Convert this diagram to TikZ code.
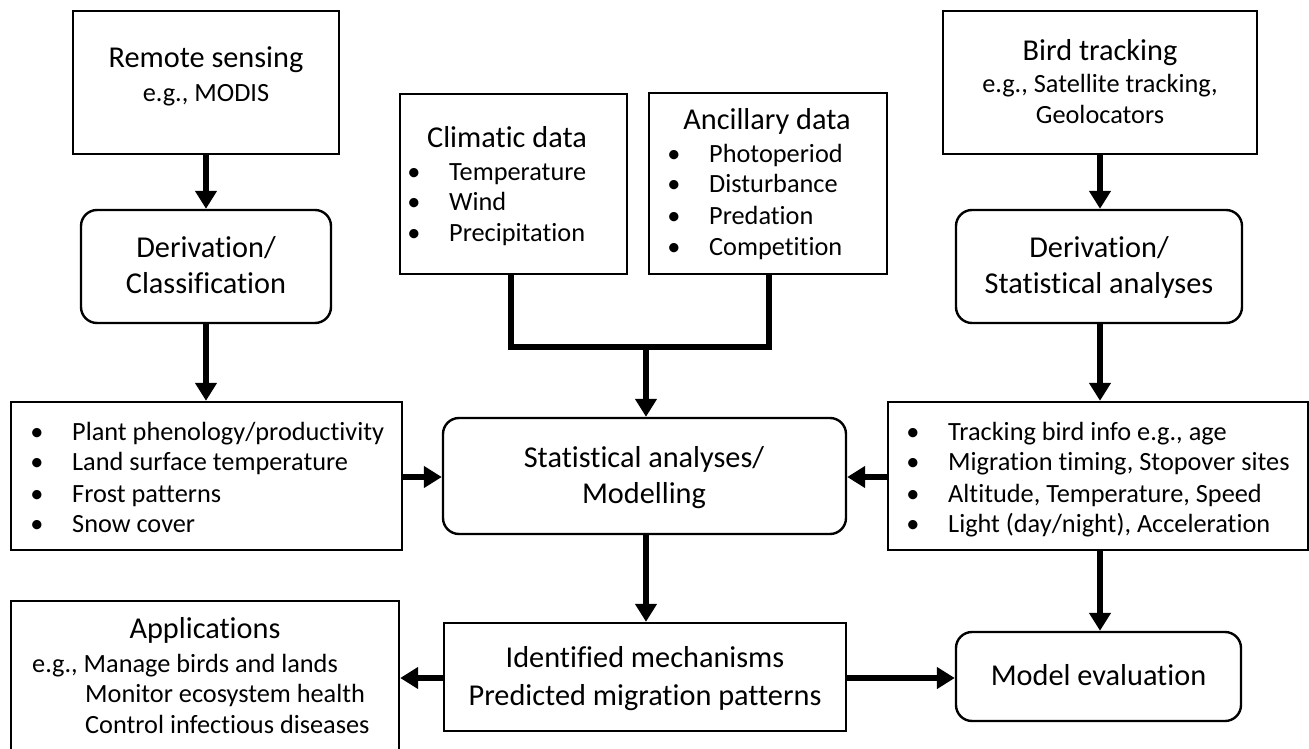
\documentclass[tikz,border=0pt]{standalone}
\usepackage{fontspec}
\setmainfont{Carlito}[Ligatures={NoCommon,NoContextual}]
\usetikzlibrary{arrows.meta}
\tikzset{
  box/.style={draw, line width=2.4pt, inner sep=0pt},
  rbox/.style={box, rounded corners=16pt},
  txt/.style={inner sep=0pt, font=\fontsize{26.3}{31}\selectfont},
  ttl/.style={inner sep=0pt, font=\fontsize{30.3}{36}\selectfont},
  arr/.style={line width=5.5pt, -{Triangle[length=18pt,width=21pt]}},
  conn/.style={line width=5.5pt},
}
\begin{document}
\begin{tikzpicture}[x=1pt,y=-1pt]
\clip (0,0) rectangle (1309,749);
\fill[white] (0,0) rectangle (1309,749);

% ---------- boxes ----------
\node[box, minimum width=266pt, minimum height=143pt] (rs) at (206,82.5) {};
\node[rbox, minimum width=250pt, minimum height=113pt] (dc) at (206,266.5) {};
\node[box, minimum width=391pt, minimum height=148pt] (lst) at (206.5,476) {};
\node[box, minimum width=227pt, minimum height=180pt] (clim) at (513.5,184) {};
\node[box, minimum width=238pt, minimum height=181pt] (anc) at (768,183.5) {};
\node[rbox, minimum width=403pt, minimum height=116pt] (stat) at (644.5,476) {};
\node[box, minimum width=402pt, minimum height=108pt] (ident) at (645,677) {};
\node[box, minimum width=388pt, minimum height=159pt] (app) at (205,680.5) {};
\node[box, minimum width=314pt, minimum height=143pt] (bt) at (1100,82.5) {};
\node[rbox, minimum width=286pt, minimum height=113pt] (ds) at (1099,266.5) {};
\node[box, minimum width=420pt, minimum height=148pt] (rlst) at (1098,476) {};
\node[rbox, minimum width=285pt, minimum height=89pt] (me) at (1098.5,676.5) {};

% ---------- texts ----------
\node[ttl, anchor=base] (rs1) at (206,68) {Remote sensing};
\node[txt, anchor=base] (rs2) at (206,102) {e.g., MODIS};

\node[ttl, anchor=base] (dc1) at (206,257) {Derivation/};
\node[ttl, anchor=base] (dc2) at (206,293) {Classification};

\node[ttl, anchor=base] (cl0) at (507,147) {Climatic data};
\node[txt, anchor=base] (clb1) at (414,180) {\textbullet};
\node[txt, anchor=base west] (cl1) at (449,180) {Temperature};
\node[txt, anchor=base] (clb2) at (414,210) {\textbullet};
\node[txt, anchor=base west] (cl2) at (449,210) {Wind};
\node[txt, anchor=base] (clb3) at (414,241) {\textbullet};
\node[txt, anchor=base west] (cl3) at (449,241) {Precipitation};

\node[ttl, anchor=base] (an0) at (767,130) {Ancillary data};
\node[txt, anchor=base] (anb1) at (674,163) {\textbullet};
\node[txt, anchor=base west] (an1) at (709,163) {Photoperiod};
\node[txt, anchor=base] (anb2) at (674,193) {\textbullet};
\node[txt, anchor=base west] (an2) at (709,193) {Disturbance};
\node[txt, anchor=base] (anb3) at (674,224) {\textbullet};
\node[txt, anchor=base west] (an3) at (709,224) {Predation};
\node[txt, anchor=base] (anb4) at (674,255) {\textbullet};
\node[txt, anchor=base west] (an4) at (709,255) {Competition};

\node[ttl, anchor=base] (bt1) at (1100,61) {Bird tracking};
\node[txt, anchor=base] (bt2) at (1100,93) {e.g., Satellite tracking,};
\node[txt, anchor=base] (bt3) at (1100,124) {Geolocators};

\node[ttl, anchor=base] (ds1) at (1099,257) {Derivation/};
\node[ttl, anchor=base] (ds2) at (1099,293) {Statistical analyses};

\node[txt, anchor=base] (lb1) at (37,440) {\textbullet};
\node[txt, anchor=base west] (l1) at (72,440) {Plant phenology/productivity};
\node[txt, anchor=base] (lb2) at (37,470) {\textbullet};
\node[txt, anchor=base west] (l2) at (72,470) {Land surface temperature};
\node[txt, anchor=base] (lb3) at (37,502) {\textbullet};
\node[txt, anchor=base west] (l3) at (72,502) {Frost patterns};
\node[txt, anchor=base] (lb4) at (37,532) {\textbullet};
\node[txt, anchor=base west] (l4) at (72,532) {Snow cover};

\node[ttl, anchor=base] (st1) at (644,467) {Statistical analyses/};
\node[ttl, anchor=base] (st2) at (644,503) {Modelling};

\node[txt, anchor=base] (rb1) at (913,440) {\textbullet};
\node[txt, anchor=base west] (r1) at (948,440) {Tracking bird info e.g., age};
\node[txt, anchor=base] (rb2) at (913,470) {\textbullet};
\node[txt, anchor=base west] (r2) at (948,470) {Migration timing, Stopover sites};
\node[txt, anchor=base] (rb3) at (913,502) {\textbullet};
\node[txt, anchor=base west] (r3) at (948,502) {Altitude, Temperature, Speed};
\node[txt, anchor=base] (rb4) at (913,532) {\textbullet};
\node[txt, anchor=base west] (r4) at (948,532) {Light (day/night), Acceleration};

\node[ttl, anchor=base] (id1) at (645,667) {Identified mechanisms};
\node[ttl, anchor=base] (id2) at (645,705) {Predicted migration patterns};

\node[ttl, anchor=base] (ap0) at (205,638) {Applications};
\node[txt, anchor=base west] (ap1) at (32,672) {e.g., Manage birds and lands};
\node[txt, anchor=base west] (ap2) at (85,702) {Monitor ecosystem health};
\node[txt, anchor=base west] (ap3) at (85,733) {Control infectious diseases};

\node[ttl, anchor=base] (me1) at (1098.5,685) {Model evaluation};

% ---------- connectors ----------
\draw[arr] (rs.south) -- (rs.south |- dc.north);
\draw[arr] (dc.south) -- (dc.south |- lst.north);
\draw[arr] (bt.south) -- (bt.south |- ds.north);
\draw[arr] (bt.south |- ds.south) -- (bt.south |- rlst.north);
\draw[arr] (bt.south |- rlst.south) -- (bt.south |- me.north);

\coordinate (cj) at (511,347);
\coordinate (aj) at (769,347);
\coordinate (mj) at (646,347);
\draw[conn, line join=miter] (clim.south -| cj) -- (cj) -- (aj) -- (anc.south -| aj);
\draw[arr] (mj) -- (mj |- stat.north);

\draw[arr] (lst.east |- 0,477) -- (stat.west |- 0,477);
\draw[arr] (rlst.west |- 0,477) -- (stat.east |- 0,477);
\draw[arr] (stat.south -| mj) -- (ident.north -| mj);
\draw[arr] (ident.west |- 0,678) -- (app.east |- 0,678);
\draw[arr] (ident.east |- 0,678) -- (me.west |- 0,678);
\end{tikzpicture}
\end{document}
